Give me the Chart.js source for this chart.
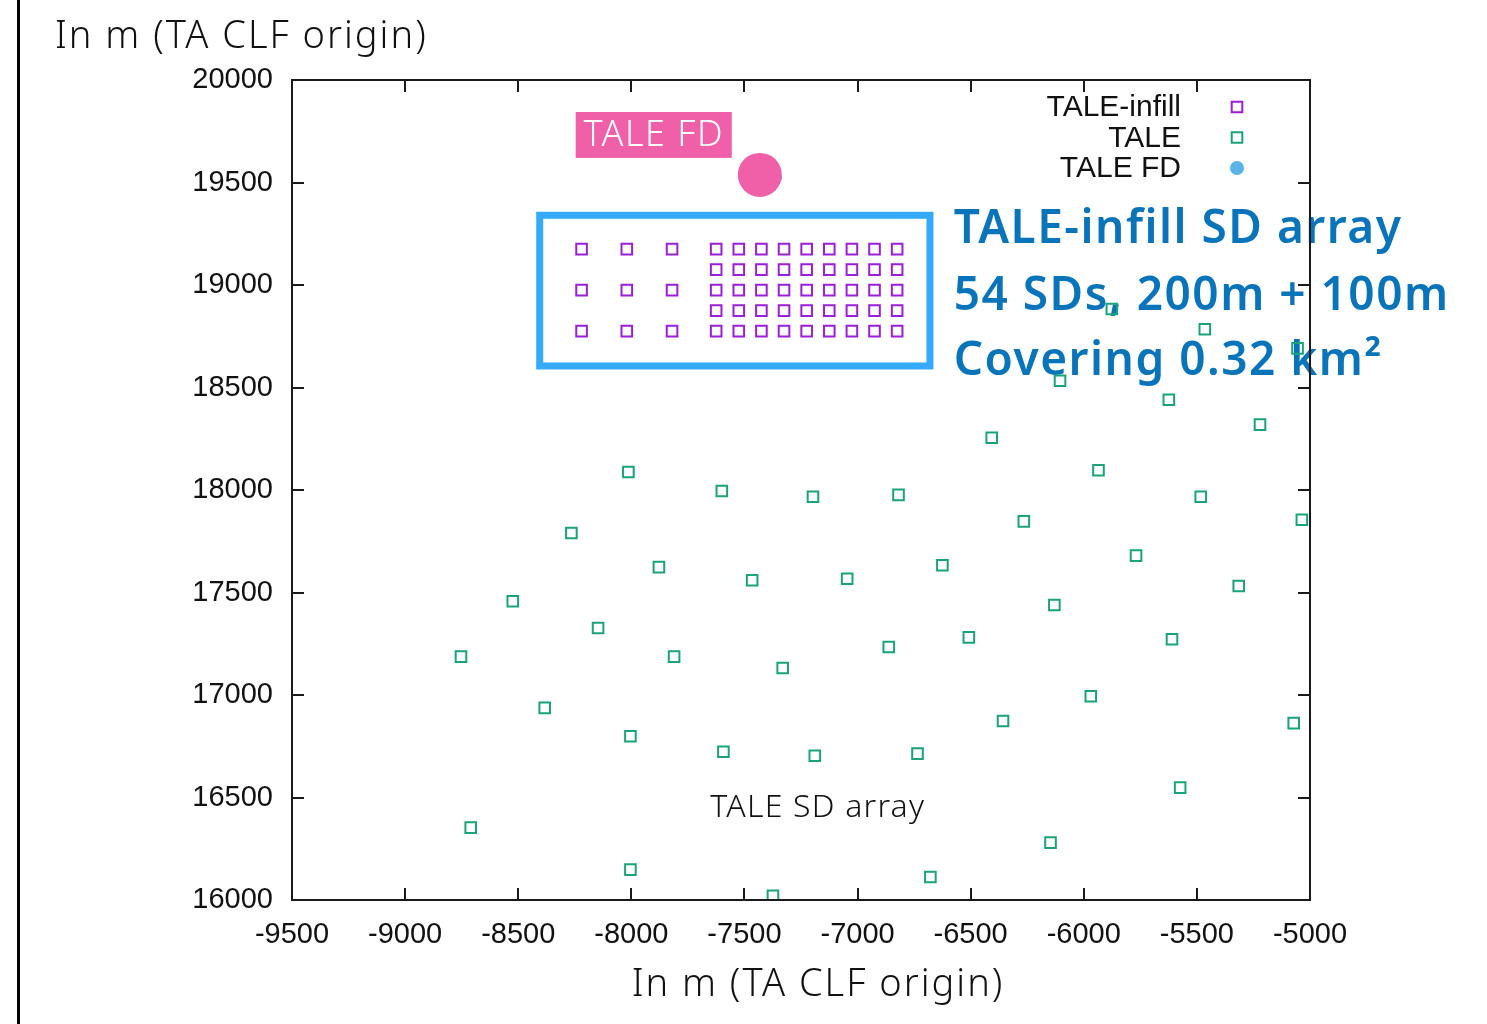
<!DOCTYPE html>
<html>
<head>
<meta charset="utf-8">
<script src="https://cdn.jsdelivr.net/npm/chart.js@4.4.1/dist/chart.umd.min.js"></script>
<style>
  html, body { margin: 0; padding: 0; background: #fff; }
  #wrap { position: relative; width: 1487px; height: 1024px; }
</style>
</head>
<body>
<div id="wrap"><canvas id="sdmap" width="1487" height="1024"></canvas></div>
<script>
// axis ticks
var xTicks = [-9500, -9000, -8500, -8000, -7500, -7000, -6500, -6000, -5500, -5000];
var yTicks = [16000, 16500, 17000, 17500, 18000, 18500, 19000, 19500, 20000];

// TALE-infill SDs (54)
var infillX = [
  -8220, -8020, -7820, -7625, -7525, -7425, -7325, -7225, -7125, -7025, -6925, -6825,
  -7625, -7525, -7425, -7325, -7225, -7125, -7025, -6925, -6825,
  -8220, -8020, -7820, -7625, -7525, -7425, -7325, -7225, -7125, -7025, -6925, -6825,
  -7625, -7525, -7425, -7325, -7225, -7125, -7025, -6925, -6825,
  -8220, -8020, -7820, -7625, -7525, -7425, -7325, -7225, -7125, -7025, -6925, -6825
];
var infillY = [
  19175, 19175, 19175, 19175, 19175, 19175, 19175, 19175, 19175, 19175, 19175, 19175,
  19075, 19075, 19075, 19075, 19075, 19075, 19075, 19075, 19075,
  18975, 18975, 18975, 18975, 18975, 18975, 18975, 18975, 18975, 18975, 18975, 18975,
  18875, 18875, 18875, 18875, 18875, 18875, 18875, 18875, 18875,
  18775, 18775, 18775, 18775, 18775, 18775, 18775, 18775, 18775, 18775, 18775, 18775
];

// TALE SDs
var taleX = [-8013, -7600, -7197, -8265, -7878, -7466, -7046, -8524, -8147, -8753, -7811, -7331,
             -5876, -5465, -5055, -6105, -5624, -5221, -6407, -5935, -6819, -5483, -6265, -5036,
             -6625, -5769, -6130, -5315, -6508, -6862, -5610, -8383, -8004, -7593, -7189, -8710,
             -8004, -7374, -6735, -6357, -5969, -5072, -5574, -6147, -6678];
var taleY = [18088, 17995, 17967, 17790, 17624, 17560, 17567, 17457, 17327, 17187, 17187, 17132,
             18883, 18784, 18691, 18533, 18440, 18319, 18255, 18096, 17976, 17967, 17847, 17855,
             17633, 17680, 17439, 17532, 17281, 17234, 17272, 16937, 16799, 16723, 16704, 16353,
             16148, 16020, 16714, 16873, 16994, 16863, 16548, 16280, 16112];

// TALE FD and its highlight spot
var fdX = [-7360];
var fdY = [19522];
var spotX = [-7432];
var spotY = [19537];

var PINK = '#ef60a8';
var BLUE_TXT = '#0a74ba';

function pts(xs, ys) {
  return xs.map(function(x, i) { return {x: x, y: ys[i]}; });
}

var decor = {
  id: 'decor',
  beforeDraw: function(chart) {
    var ctx = chart.ctx;
    ctx.save();
    ctx.fillStyle = '#000';
    ctx.fillRect(17, 0, 3, 1024);
    ctx.restore();
  },
  beforeDatasetsDraw: function(chart) {
    var ctx = chart.ctx, xs = chart.scales.x, ys = chart.scales.y;
    ctx.save();
    // blue box round the infill array
    ctx.strokeStyle = '#35aafa';
    ctx.lineWidth = 7;
    var x0 = xs.getPixelForValue(-8405), x1 = xs.getPixelForValue(-6680);
    var y0 = ys.getPixelForValue(19340), y1 = ys.getPixelForValue(18605);
    ctx.strokeRect(x0, y0, x1 - x0, y1 - y0);

    // blue description
    ctx.fillStyle = BLUE_TXT;
    ctx.font = '600 46px "Noto Sans"';
    ctx.letterSpacing = '1.5px';
    ctx.textAlign = 'left';
    ctx.textBaseline = 'alphabetic';
    var tx = xs.getPixelForValue(-6575);
    ctx.fillText('TALE-infill SD array', tx, ys.getPixelForValue(19205));
    ctx.fillText('54 SDs, 200m + 100m', tx, ys.getPixelForValue(18880));
    ctx.fillText('Covering 0.32 km\u00b2', tx, ys.getPixelForValue(18560));

    // pink FD tag
    var bx0 = xs.getPixelForValue(-8246), bx1 = xs.getPixelForValue(-7556);
    var by0 = ys.getPixelForValue(19844), by1 = ys.getPixelForValue(19620);
    ctx.fillStyle = PINK;
    ctx.fillRect(bx0, by0, bx1 - bx0, by1 - by0);
    ctx.fillStyle = '#fff';
    ctx.font = '300 36px "Noto Sans"';
    ctx.letterSpacing = '1.5px';
    ctx.textAlign = 'center';
    ctx.textBaseline = 'middle';
    ctx.fillText('TALE FD', (bx0 + bx1) / 2, (by0 + by1) / 2 + 1);

    // array name
    ctx.fillStyle = '#111';
    ctx.font = '300 32px "Noto Sans"';
    ctx.letterSpacing = '1.2px';
    ctx.fillText('TALE SD array', xs.getPixelForValue(-7176), ys.getPixelForValue(16449));
    ctx.restore();
  },
  afterDatasetsDraw: function(chart) {
    var ctx = chart.ctx, a = chart.chartArea, xs = chart.scales.x, ys = chart.scales.y;
    ctx.save();
    // frame and inward ticks (gnuplot style)
    ctx.strokeStyle = '#1a1a1a';
    ctx.lineWidth = 2;
    ctx.strokeRect(a.left, a.top, a.right - a.left, a.bottom - a.top);
    ctx.beginPath();
    xTicks.forEach(function(v) {
      var p = Math.round(xs.getPixelForValue(v));
      ctx.moveTo(p, a.bottom); ctx.lineTo(p, a.bottom - 12);
      ctx.moveTo(p, a.top); ctx.lineTo(p, a.top + 12);
    });
    yTicks.forEach(function(v) {
      var p = Math.round(ys.getPixelForValue(v));
      ctx.moveTo(a.left, p); ctx.lineTo(a.left + 12, p);
      ctx.moveTo(a.right, p); ctx.lineTo(a.right - 12, p);
    });
    ctx.stroke();

    // key
    var rows = [1, 2, 3];
    ctx.font = '30px "Liberation Sans"';
    ctx.textAlign = 'right';
    ctx.textBaseline = 'middle';
    rows.forEach(function(di, k) {
      var ds = chart.data.datasets[di];
      var yy = 107 + k * 30.5;
      ctx.fillStyle = '#111';
      ctx.fillText(ds.label, 1181, yy + 1);
      ctx.fillStyle = ds.backgroundColor;
      ctx.strokeStyle = ds.borderColor;
      Chart.helpers.drawPoint(ctx, {
        pointStyle: ds.pointStyle, rotation: 0,
        radius: di === 3 ? 7 : 7.5, borderWidth: ds.borderWidth
      }, 1237, yy);
    });

    // axis titles
    ctx.fillStyle = '#111';
    ctx.font = '300 38px "Noto Sans"';
    ctx.letterSpacing = '2px';
    ctx.textAlign = 'left';
    ctx.textBaseline = 'middle';
    ctx.fillText('In m (TA CLF origin)', 55, 37);
    ctx.textAlign = 'center';
    ctx.fillText('In m (TA CLF origin)', 818, 985);
    ctx.restore();
  }
};

var tickFont = {family: 'Liberation Sans', size: 29};

new Chart(document.getElementById('sdmap').getContext('2d'), {
  type: 'scatter',
  data: {
    datasets: [
      {
        label: '',
        data: pts(spotX, spotY),
        pointStyle: 'circle',
        pointRadius: 22,
        backgroundColor: PINK,
        borderColor: PINK,
        borderWidth: 0,
        order: 0
      },
      {
        label: 'TALE-infill',
        data: pts(infillX, infillY),
        pointStyle: 'rect',
        pointRadius: 7.5,
        backgroundColor: 'rgba(0,0,0,0)',
        borderColor: '#9b1ed8',
        borderWidth: 2,
        order: 1
      },
      {
        label: 'TALE',
        data: pts(taleX, taleY),
        pointStyle: 'rect',
        pointRadius: 7.5,
        backgroundColor: 'rgba(0,0,0,0)',
        borderColor: '#1aa37a',
        borderWidth: 2,
        order: 2
      },
      {
        label: 'TALE FD',
        data: pts(fdX, fdY),
        pointStyle: 'circle',
        pointRadius: 6,
        backgroundColor: '#5ab4ea',
        borderColor: '#5ab4ea',
        borderWidth: 0,
        order: 3
      }
    ]
  },
  options: {
    responsive: false,
    animation: false,
    events: [],
    layout: {padding: {left: 0, top: 80, right: 177, bottom: 0}},
    plugins: {legend: {display: false}, tooltip: {enabled: false}},
    scales: {
      x: {
        type: 'linear',
        min: -9500, max: -5000,
        afterBuildTicks: function(s) { s.ticks = xTicks.map(function(v) { return {value: v}; }); },
        afterFit: function(s) { s.height = 124; },
        grid: {display: false, drawTicks: false},
        border: {display: false},
        ticks: {font: tickFont, color: '#111', padding: 18, maxRotation: 0, autoSkip: false,
                callback: function(v) { return String(v); }}
      },
      y: {
        type: 'linear',
        min: 16000, max: 20000,
        afterBuildTicks: function(s) { s.ticks = yTicks.map(function(v) { return {value: v}; }); },
        afterFit: function(s) { s.width = 292; },
        grid: {display: false, drawTicks: false},
        border: {display: false},
        ticks: {font: tickFont, color: '#111', padding: 19, autoSkip: false,
                callback: function(v) { return String(v); }}
      }
    }
  },
  plugins: [decor]
});
</script>
</body>
</html>
